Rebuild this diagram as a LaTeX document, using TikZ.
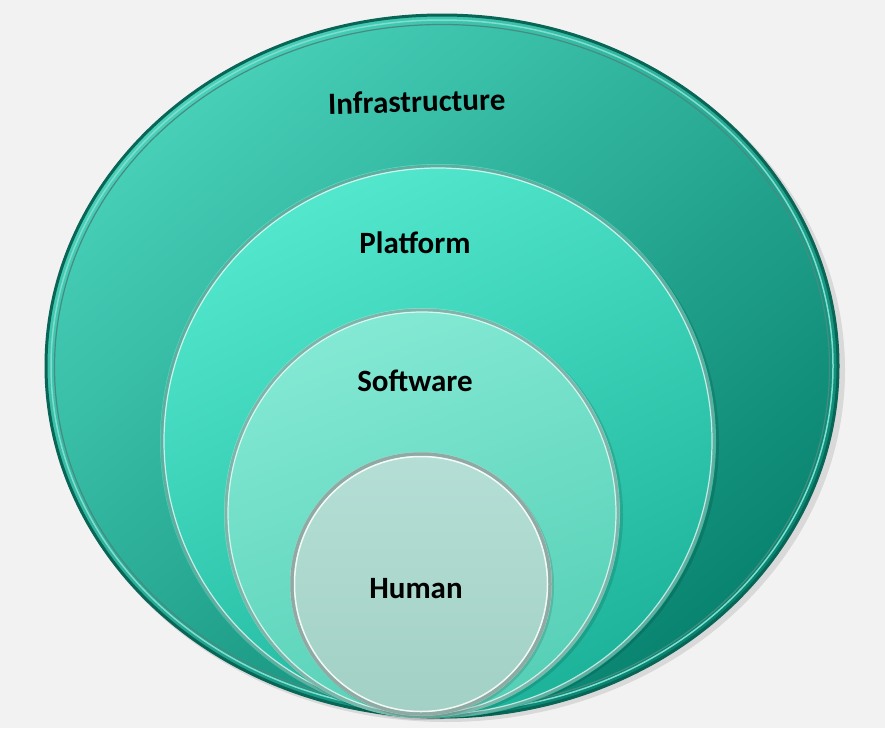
\documentclass[tikz,border=0pt]{standalone}
\usepackage{fontspec}
\setmainfont{Carlito}
\definecolor{bgc}{HTML}{F2F2F2}
\definecolor{oTop}{HTML}{48D0B9}
\definecolor{oBot}{HTML}{08836F}
\definecolor{oRim}{HTML}{096656}
\definecolor{pTop}{HTML}{53E8CE}
\definecolor{pBot}{HTML}{1CB39A}
\definecolor{sTop}{HTML}{84E9D4}
\definecolor{sBot}{HTML}{56CFB6}
\definecolor{hTop}{HTML}{B5DFD6}
\definecolor{hBot}{HTML}{A2D0C4}
\definecolor{rimGray}{HTML}{8FA9A3}
\begin{document}
\begin{tikzpicture}[x=1pt,y=-1pt,
  lbl/.style={font=\bfseries\fontsize{31}{36}\selectfont, text=black, anchor=base, inner sep=0pt},
  hilite/.style={draw=white, draw opacity=0.7, line width=1.2pt}]
\fill[bgc] (0,0) rectangle (885,728);
\useasboundingbox (0,0) rectangle (885,728);
% shadow
\fill[black, opacity=0.10] (446,370) ellipse [x radius=399, y radius=352];
% outer: Infrastructure
\shade[top color=oTop, bottom color=oBot, shading angle=40] (442,366) ellipse [x radius=397, y radius=352];
\draw[oRim, line width=3pt] (442,366) ellipse [x radius=396, y radius=351];
\draw[oTop!70!white, line width=1.5pt] (442,366) ellipse [x radius=391, y radius=346];
\draw[oRim!75, line width=1.2pt] (442,367) ellipse [x radius=387.5, y radius=342.5];
% platform
\fill[black, opacity=0.12] (440,443) ellipse [x radius=279, y radius=276];
\shade[top color=pTop, bottom color=pBot, shading angle=25] (438,441) ellipse [x radius=278, y radius=277];
\draw[rimGray!60!pBot, line width=3pt] (438,441) ellipse [x radius=276, y radius=275];
\draw[hilite] (438,441) ellipse [x radius=274, y radius=273];
% software
\fill[black, opacity=0.12] (424,515) ellipse [x radius=199, y radius=205];
\shade[top color=sTop, bottom color=sBot, shading angle=20] (422,513) ellipse [x radius=198, y radius=205];
\draw[rimGray!70!sBot, line width=3pt] (422,513) ellipse [x radius=196, y radius=203];
\draw[hilite] (422,513) ellipse [x radius=194, y radius=201];
% human
\fill[black, opacity=0.12] (423,586) ellipse [x radius=131, y radius=132];
\shade[top color=hTop, bottom color=hBot] (421,584) ellipse [x radius=131, y radius=132];
\draw[rimGray, line width=3.5pt] (421,584) ellipse [x radius=129, y radius=130];
\draw[white, line width=1.5pt, opacity=0.85] (421,584) ellipse [x radius=126.5, y radius=127.5];
% labels
\node[lbl, rotate=1.5] (infra) at (417,112) {Infrastructure};
\node[lbl] (plat) at (415,253) {Platform};
\node[lbl] (soft) at (415,391) {Software};
\node[lbl] (hum) at (416,598) {Human};
\end{tikzpicture}
\end{document}
